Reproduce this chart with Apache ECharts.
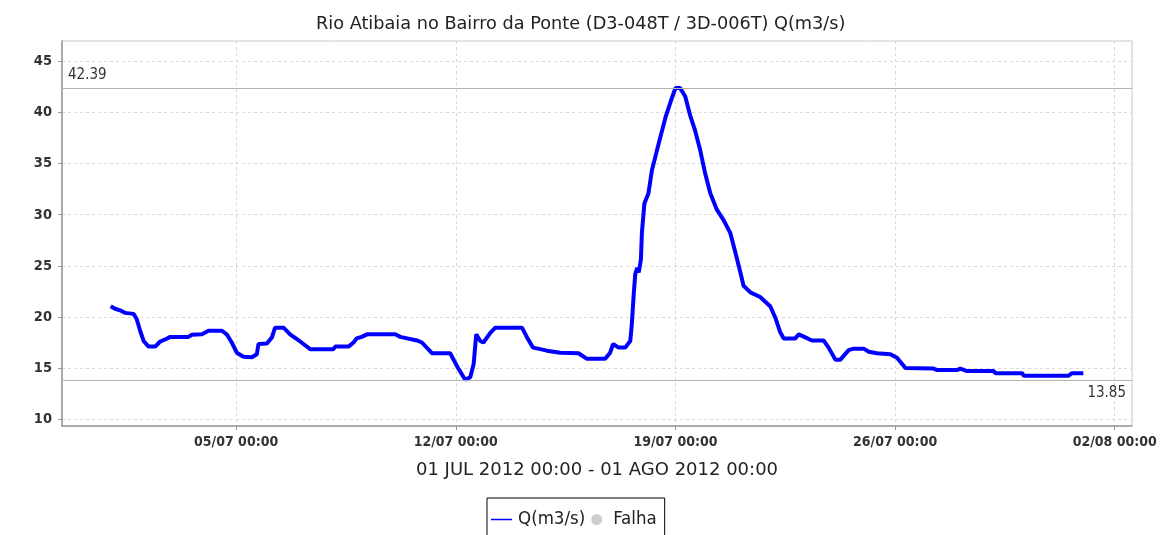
<!DOCTYPE html>
<html>
<head>
<meta charset="utf-8">
<script src="https://cdn.jsdelivr.net/npm/echarts@6/dist/echarts.min.js"></script>
<style>
    html, body { margin: 0; padding: 0; background: #fff; }
    #chart { width: 1164px; height: 535px; }
</style>
</head>
<body>
<div id="chart"></div>
<script>
// dias desde 01/07/2012 00:00 e vazão
var days = [0.00, 0.14, 0.30, 0.46, 0.73, 0.83, 0.94, 1.05, 1.21, 1.42, 1.58, 1.74, 1.90, 2.48, 2.59, 2.91,
    3.12, 3.55, 3.70, 3.86, 4.02, 4.23, 4.50, 4.66, 4.71, 4.98, 5.14, 5.24, 5.51, 5.72, 6.04, 6.36,
    7.10, 7.16, 7.58, 7.74, 7.84, 8.00, 8.17, 9.07, 9.23, 9.76, 9.92, 10.24, 10.82, 11.09, 11.30, 11.46,
    11.57, 11.65, 11.70, 11.78, 11.88, 12.10, 12.26, 13.11, 13.27, 13.46, 13.69, 13.90, 14.33, 14.91,
    15.18, 15.76, 15.92, 16.01, 16.19, 16.40, 16.56, 16.61, 16.67, 16.72, 16.78, 16.83, 16.90, 16.93,
    17.01, 17.14, 17.25, 17.46, 17.68, 17.89, 18.00, 18.15, 18.31, 18.47, 18.63, 18.79, 18.95, 19.11,
    19.32, 19.53, 19.75, 19.91, 20.07, 20.17, 20.39, 20.70, 21.02, 21.18, 21.34, 21.45, 21.82, 21.93,
    22.14, 22.35, 22.72, 22.88, 23.10, 23.25, 23.52, 23.68, 24.00, 24.16, 24.42, 24.85, 25.06, 25.33,
    26.23, 26.34, 26.97, 27.08, 27.29, 28.14, 28.20, 29.05, 29.10, 30.53, 30.64, 31.00];
var flow = [21.05, 20.8, 20.65, 20.4, 20.3, 19.8, 18.65, 17.65, 17.1, 17.1, 17.6, 17.8, 18.05, 18.05, 18.25, 18.3,
    18.65, 18.65, 18.3, 17.5, 16.5, 16.1, 16.05, 16.35, 17.35, 17.4, 18.0, 18.95, 18.95, 18.3, 17.6, 16.85,
    16.85, 17.1, 17.1, 17.5, 17.9, 18.05, 18.3, 18.3, 18.05, 17.7, 17.5, 16.45, 16.45, 14.9, 13.85, 14.1,
    15.4, 18.3, 18.45, 17.65, 17.5, 18.45, 18.95, 18.95, 18.0, 17.0, 16.85, 16.7, 16.5, 16.45,
    15.9, 15.9, 16.5, 17.35, 17.0, 17.0, 17.65, 19.3, 22.2, 24.2, 24.8, 24.35, 25.65, 28.2,
    31.1, 32.1, 34.35, 36.9, 39.5, 41.45, 42.39, 42.39, 41.6, 39.7, 38.2, 36.3, 34.0, 32.1,
    30.5, 29.5, 28.2, 26.3, 24.35, 23.05, 22.4, 21.95, 21.05, 19.95, 18.5, 17.9, 17.9, 18.3,
    18.0, 17.7, 17.7, 17.0, 15.8, 15.8, 16.75, 16.9, 16.9, 16.6, 16.45, 16.35, 16.0, 15.0,
    14.95, 14.8, 14.8, 14.95, 14.7, 14.7, 14.5, 14.5, 14.25, 14.25, 14.5, 14.5];
// ticks do eixo x (dia/mês) e do eixo y
var xTickDates = [[5, 7], [12, 7], [19, 7], [26, 7], [2, 8]];
var yTicks = [10, 15, 20, 25, 30, 35, 40, 45];

var DAY = 24 * 3600 * 1000;
var t0 = Date.UTC(2012, 6, 1);
var span = 31 * DAY;
var pad = function(n) { return (n < 10 ? '0' : '') + n; };

var seriesData = [];
for (var i = 0; i < days.length; i++) {
    seriesData.push([t0 + days[i] * DAY, flow[i]]);
}
var xTicks = [];
for (var j = 0; j < xTickDates.length; j++) {
    xTicks.push(Date.UTC(2012, xTickDates[j][1] - 1, xTickDates[j][0]));
}

var condensed = 'DejaVu Sans Condensed, DejaVu Sans, sans-serif';
var wide = 'DejaVu Sans, sans-serif';
// ícone de linha para a legenda (pontos mínimos nos cantos mantêm a proporção)
var lineIcon = 'path://M0,5.2H23V6.8H0Z M0,0H0.01V0.01H0Z M23,12H22.99V11.99H23Z';

var myChart = echarts.init(document.getElementById('chart'));
var option = {
    animation: false,
    title: {
        text: 'Rio Atibaia no Bairro da Ponte (D3-048T / 3D-006T) Q(m3/s)',
        left: 311,
        top: 10,
        textStyle: { fontFamily: wide, fontSize: 17.7, fontWeight: 'normal', color: '#222' }
    },
    grid: {
        left: 62, right: 32, top: 41, bottom: 109,
        outerBoundsMode: 'none',
        show: true, borderColor: '#c8c8c8', borderWidth: 1
    },
    legend: {
        top: 498,
        left: 487,
        padding: [12, 8, 20, 4],
        itemGap: 6,
        itemWidth: 23,
        itemHeight: 11,
        borderColor: '#000',
        borderWidth: 1,
        textStyle: { fontFamily: condensed, fontSize: 18.5, color: '#222' },
        data: [
            { name: 'Q(m3/s)', icon: lineIcon },
            { name: 'Falha', icon: 'circle', itemStyle: { color: '#c0c0c0' } }
        ]
    },
    xAxis: {
        type: 'value',
        min: t0 - 0.05 * span,
        max: t0 + span + 0.05 * span,
        name: '01 JUL 2012 00:00 - 01 AGO 2012 00:00',
        nameLocation: 'middle',
        nameGap: 35,
        nameTextStyle: { fontFamily: wide, fontSize: 18, color: '#222' },
        axisLine: { lineStyle: { color: '#999', width: 1.5 } },
        axisTick: { show: true, length: 4, lineStyle: { color: '#999' }, customValues: xTicks },
        axisLabel: {
            customValues: xTicks,
            margin: 9,
            fontFamily: condensed, fontSize: 14, fontWeight: 'bold', color: '#333',
            formatter: function(v) {
                var d = new Date(v);
                return pad(d.getUTCDate()) + '/' + pad(d.getUTCMonth() + 1) + ' 00:00';
            }
        },
        splitLine: { show: true, lineStyle: { color: '#d8d8d8', type: [3, 3] } }
    },
    yAxis: {
        type: 'value',
        min: 9.33,
        max: 47,
        axisLine: { show: true, lineStyle: { color: '#999', width: 1.5 } },
        axisTick: { show: true, length: 4, lineStyle: { color: '#999' }, customValues: yTicks },
        axisLabel: {
            customValues: yTicks,
            margin: 10,
            fontFamily: condensed, fontSize: 14.5, fontWeight: 'bold', color: '#333'
        },
        splitLine: { show: true, lineStyle: { color: '#d8d8d8', type: [3, 3] } }
    },
    series: [{
        name: 'Q(m3/s)',
        type: 'line',
        symbol: 'none',
        data: seriesData,
        lineStyle: { color: '#0000ff', width: 4 },
        itemStyle: { color: '#0000ff' },
        markLine: {
            silent: true,
            symbol: 'none',
            precision: 2,
            lineStyle: { color: '#b4b4b4', type: 'solid', width: 1.2 },
            label: { fontFamily: condensed, fontSize: 15, color: '#333', distance: 6 },
            data: [
                { type: 'max', label: { position: 'insideStartTop' } },
                { type: 'min', label: { position: 'insideEndBottom' } }
            ]
        }
    }, {
        name: 'Falha',
        type: 'scatter',
        data: [],
        itemStyle: { color: '#c0c0c0' }
    }]
};
myChart.setOption(option);
</script>
</body>
</html>
